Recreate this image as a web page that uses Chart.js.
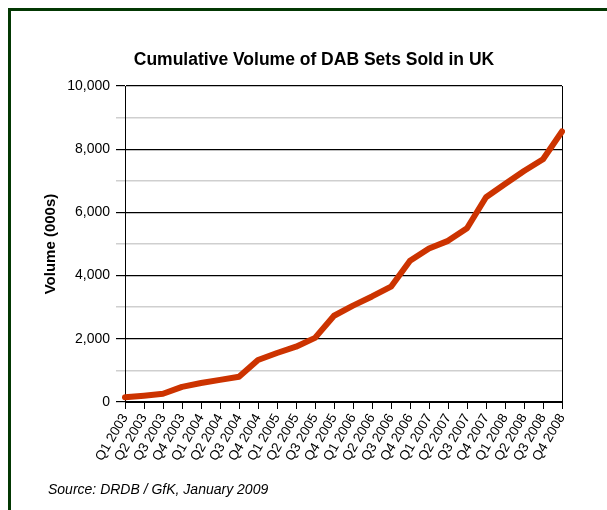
<!DOCTYPE html>
<html>
<head>
<meta charset="utf-8">
<script src="https://cdn.jsdelivr.net/npm/chart.js@4"></script>
<style>
  html, body { margin: 0; padding: 0; background: #fff; }
  #wrap { position: relative; width: 607px; height: 510px; overflow: hidden; background: #fff; }
  #frame { position: absolute; left: 8px; top: 8px; width: 640px; height: 540px; border: 3px solid #033803; box-sizing: border-box; }
  #chart { position: absolute; left: 0; top: 0; }
  #title { position: absolute; left: 0; width: 628px; top: 49px; text-align: center;
           font: bold 17.5px Helvetica, Arial, "Liberation Sans", sans-serif; line-height: 20px; color: #000; }
  #source { position: absolute; left: 48px; top: 481px;
            font: italic 14px Helvetica, Arial, "Liberation Sans", sans-serif; line-height: 16px; color: #000; }
</style>
</head>
<body>
<div id="wrap">
  <div id="frame"></div>
  <canvas id="chart" width="607" height="510"></canvas>
  <div id="title">Cumulative Volume of DAB Sets Sold in UK</div>
  <div id="source">Source: DRDB / GfK, January 2009</div>
</div>
<script>
const quarters = ["Q1 2003","Q2 2003","Q3 2003","Q4 2003","Q1 2004","Q2 2004","Q3 2004","Q4 2004",
                  "Q1 2005","Q2 2005","Q3 2005","Q4 2005","Q1 2006","Q2 2006","Q3 2006","Q4 2006",
                  "Q1 2007","Q2 2007","Q3 2007","Q4 2007","Q1 2008","Q2 2008","Q3 2008","Q4 2008"];
const cumulativeVolume = [150, 200, 260, 480, 600, 700, 800, 1330,
                          1550, 1750, 2030, 2730, 3050, 3340, 3650, 4470,
                          4860, 5100, 5500, 6480, 6900, 7310, 7680, 8560];
const yMin = 0, yMax = 10000, yMinorStep = 1000, yMajorStep = 2000;
const yAxisTitle = "Volume (000s)";

const fontFamily = 'Helvetica, Arial, "Liberation Sans", sans-serif';

new Chart(document.getElementById('chart'), {
  type: 'line',
  data: {
    labels: quarters,
    datasets: [{
      data: cumulativeVolume,
      borderColor: '#CC3300',
      backgroundColor: '#CC3300',
      borderWidth: 6,
      pointRadius: 0,
      pointHoverRadius: 0,
      tension: 0,
      borderCapStyle: 'round',
      borderJoinStyle: 'round',
      fill: false
    }]
  },
  options: {
    responsive: false,
    animation: false,
    devicePixelRatio: 1,
    layout: { padding: { top: 86, right: 45, left: 0, bottom: 0 } },
    plugins: { legend: { display: false }, title: { display: false }, tooltip: { enabled: false } },
    scales: {
      x: {
        offset: false,
        border: { display: true, color: '#000', width: 1 },
        grid: {
          display: true,
          drawOnChartArea: true,
          color: ctx => (ctx.index === quarters.length - 1 ? '#000' : 'rgba(0,0,0,0)'),
          tickColor: '#000',
          tickLength: 7,
          lineWidth: 1
        },
        ticks: {
          autoSkip: false,
          maxRotation: 60,
          minRotation: 60,
          padding: 2,
          color: '#000',
          font: { family: fontFamily, size: 13.5 }
        },
        afterFit: s => { s.height = 108; }
      },
      y: {
        min: yMin,
        max: yMax,
        border: { display: true, color: '#000', width: 1 },
        grid: {
          color: ctx => (ctx.tick && ctx.tick.value % yMajorStep === 0 ? '#000' : '#cfcfcf'),
          tickColor: ctx => (ctx.tick && ctx.tick.value % yMajorStep === 0 ? '#000' : '#cfcfcf'),
          lineWidth: ctx => (ctx.tick && ctx.tick.value % yMajorStep === 0 ? 1.2 : 1.5),
          tickLength: 9
        },
        ticks: {
          stepSize: yMinorStep,
          padding: 6,
          color: '#000',
          font: { family: fontFamily, size: 14 },
          callback: v => (v % yMajorStep === 0 ? v.toLocaleString('en-US') : '')
        },
        title: {
          display: true,
          text: yAxisTitle,
          color: '#000',
          font: { family: fontFamily, size: 15, weight: 'bold' },
          padding: { top: 42, bottom: 0 }
        },
        afterFit: s => { s.width = 125; }
      }
    }
  }
});
</script>
</body>
</html>
